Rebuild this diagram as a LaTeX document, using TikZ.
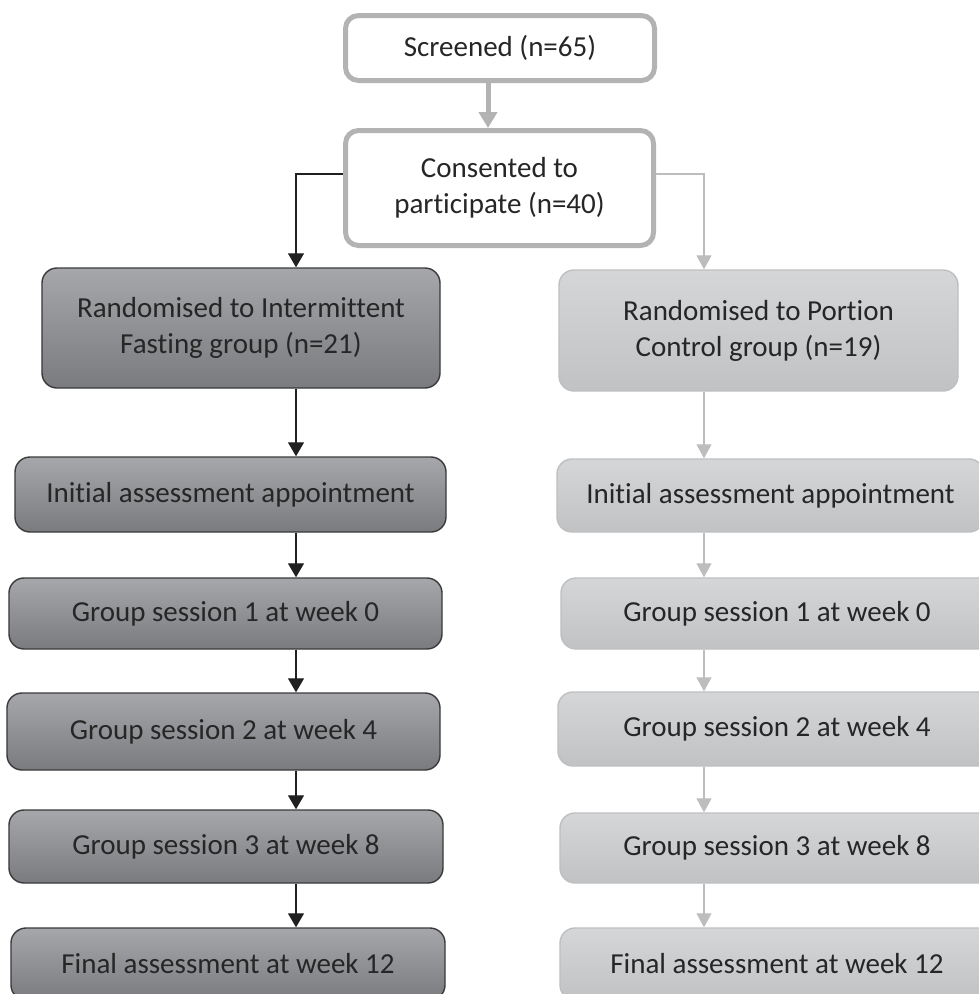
\documentclass[tikz,border=0pt]{standalone}
\usepackage{fontspec}
\setmainfont{Carlito}[RawFeature={-liga;-clig;-calt;-dlig}]
\usetikzlibrary{arrows.meta}
\definecolor{txt}{HTML}{262626}
\definecolor{topline}{HTML}{B3B3B3}
\definecolor{darkline}{HTML}{3A3A3A}
\definecolor{lightline}{HTML}{BDBDBD}
\tikzset{
  base/.style={align=center, inner sep=0pt, text=txt,
    font=\fontsize{29bp}{36bp}\selectfont},
  topbox/.style={base, draw=topline, line width=5bp, fill=white,
    rounded corners=13bp},
  darkbox/.style={base, draw=darkline, line width=1.4bp,
    top color={rgb,255:red,166;green,167;blue,170},
    bottom color={rgb,255:red,122;green,123;blue,126},
    rounded corners=15bp},
  lightbox/.style={base, draw={rgb,255:red,190;green,191;blue,193}, line width=1.4bp,
    top color={rgb,255:red,213;green,214;blue,216},
    bottom color={rgb,255:red,193;green,194;blue,196},
    rounded corners=15bp},
  darkarrow/.style={draw={rgb,255:red,32;green,32;blue,32}, line width=1.3bp,
    -{Triangle[length=14bp,width=16bp]}},
  lightarrow/.style={draw=lightline, line width=1.3bp,
    -{Triangle[length=14bp,width=15bp]}},
  toparrow/.style={draw=topline, line width=5bp,
    -{Triangle[length=16bp,width=18bp]}},
}
\begin{document}
\begin{tikzpicture}[x=1bp,y=-1bp]
\path[use as bounding box, clip] (0,0) rectangle (979,994);

\node[topbox, minimum width=309bp, minimum height=65bp] (scr) at (500,48) {Screened (n=65)};
\node[topbox, minimum width=308bp, minimum height=115bp] (con) at (499.5,188) {Consented to\\participate (n=40)};

\node[darkbox, minimum width=398bp, minimum height=120bp] (if) at (241,328) {Randomised to Intermittent\\Fasting group (n=21)};
\node[lightbox, minimum width=399bp, minimum height=121bp] (pc) at (758.5,330.5) {Randomised to Portion\\Control group (n=19)};

\node[darkbox, minimum width=431bp, minimum height=75bp] (ia1) at (230.5,494.5) {Initial assessment appointment};
\node[lightbox, minimum width=427bp, minimum height=73bp] (ia2) at (770.5,495.5) {Initial assessment appointment};

\node[darkbox, minimum width=433bp, minimum height=71bp] (g1a) at (225.5,613.5) {Group session 1 at week 0};
\node[lightbox, minimum width=432bp, minimum height=71bp] (g1b) at (777,613.5) {Group session 1 at week 0};

\node[darkbox, minimum width=433bp, minimum height=77bp] (g2a) at (223.5,731.5) {Group session 2 at week 4};
\node[lightbox, minimum width=438bp, minimum height=74bp] (g2b) at (777,729) {Group session 2 at week 4};

\node[darkbox, minimum width=434bp, minimum height=73bp] (g3a) at (226,846.5) {Group session 3 at week 8};
\node[lightbox, minimum width=434bp, minimum height=70bp] (g3b) at (777,848) {Group session 3 at week 8};

\node[darkbox, minimum width=434bp, minimum height=72bp] (fa) at (228,964) {Final assessment at week 12};
\node[lightbox, minimum width=434bp, minimum height=72bp] (fb) at (777,964) {Final assessment at week 12};

\draw[toparrow] (488,0 |- scr.south) -- (488,0 |- con.north);
\draw[darkarrow] (con.west |- 0,174) -| (296,0 |- if.north);
\draw[lightarrow] (con.east |- 0,174) -| (704,0 |- pc.north);

\draw[darkarrow] (296,0 |- if.south) -- (296,0 |- ia1.north);
\draw[darkarrow] (296,0 |- ia1.south) -- (296,0 |- g1a.north);
\draw[darkarrow] (296,0 |- g1a.south) -- (296,0 |- g2a.north);
\draw[darkarrow] (296,0 |- g2a.south) -- (296,0 |- g3a.north);
\draw[darkarrow] (296,0 |- g3a.south) -- (296,0 |- fa.north);

\draw[lightarrow] (704,0 |- pc.south) -- (704,0 |- ia2.north);
\draw[lightarrow] (704,0 |- ia2.south) -- (704,0 |- g1b.north);
\draw[lightarrow] (704,0 |- g1b.south) -- (704,0 |- g2b.north);
\draw[lightarrow] (704,0 |- g2b.south) -- (704,0 |- g3b.north);
\draw[lightarrow] (704,0 |- g3b.south) -- (704,0 |- fb.north);
\end{tikzpicture}
\end{document}
